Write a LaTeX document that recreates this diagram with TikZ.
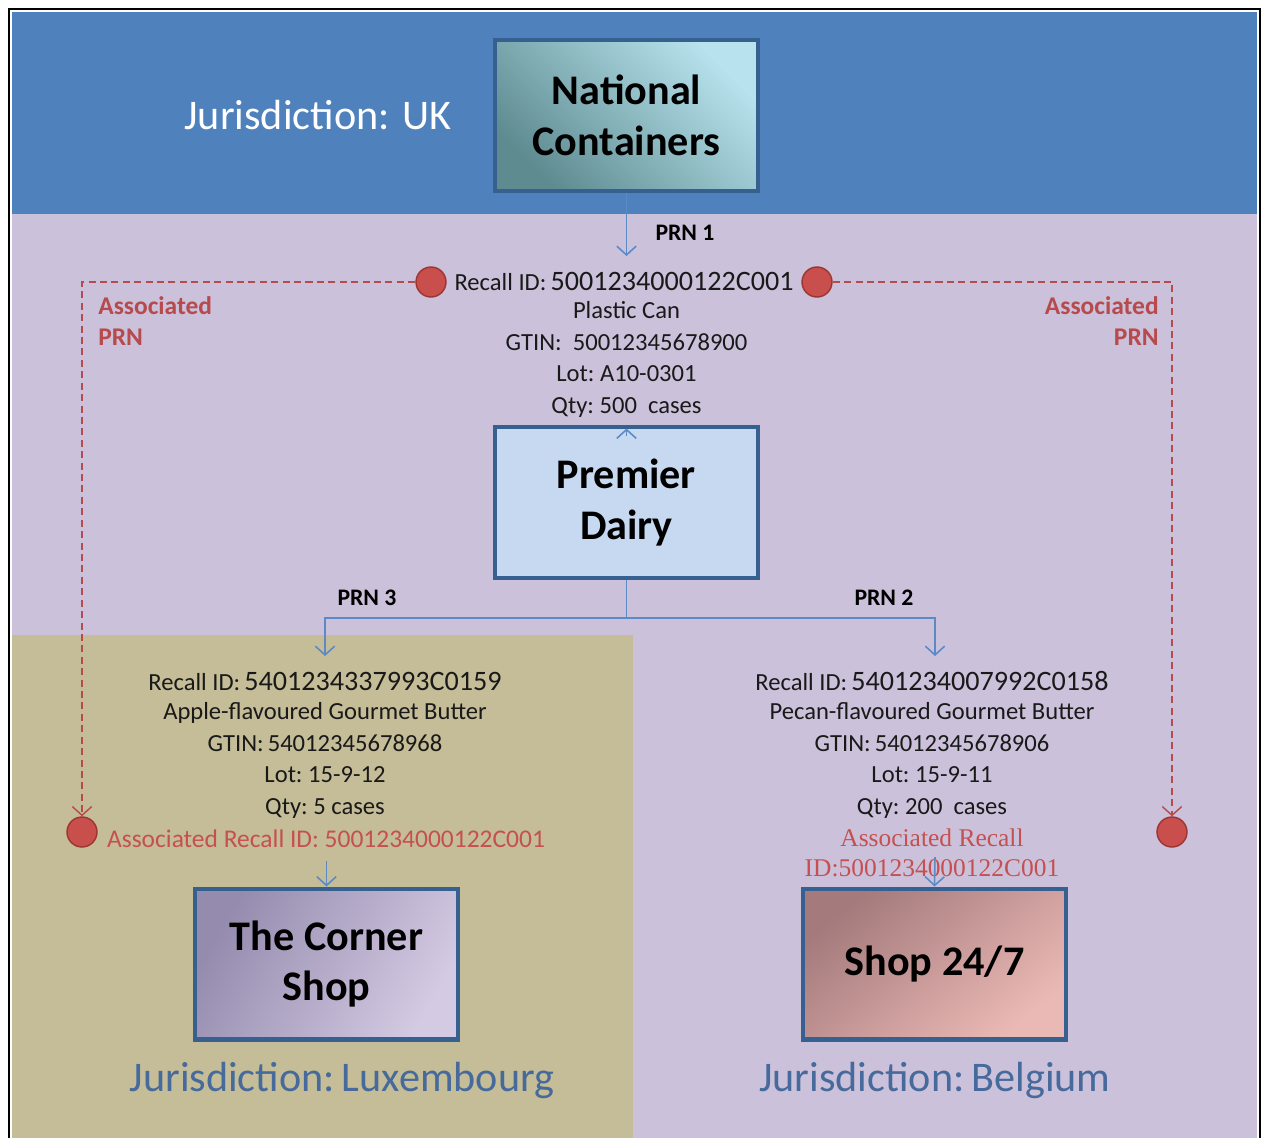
\documentclass[tikz,border=0pt]{standalone}
\usepackage{fontspec}
\setmainfont{Carlito}
\newfontfamily\serifred{Liberation Serif}
\usetikzlibrary{arrows.meta,calc}

\definecolor{band}{HTML}{4F81BD}
\definecolor{lav}{HTML}{CCC1DA}
\definecolor{olivebg}{HTML}{C4BD97}
\definecolor{boxline}{HTML}{35608F}
\definecolor{pdblue}{HTML}{C6D9F1}
\definecolor{connblue}{HTML}{5B8AC6}
\definecolor{dotred}{HTML}{C94F4C}
\definecolor{dotdark}{HTML}{9C3532}
\definecolor{assocred}{HTML}{B64A4C}
\definecolor{redtext}{HTML}{C45050}
\definecolor{jurblue}{HTML}{466A9C}
\definecolor{ncdark}{HTML}{5E8B90}
\definecolor{nclight}{HTML}{B8E3EE}
\definecolor{csdark}{HTML}{958BAE}
\definecolor{cslight}{HTML}{D4CAE3}
\definecolor{shdark}{HTML}{A47A7C}
\definecolor{shlight}{HTML}{EBB9B5}

\newcommand\fsz[2]{\fontsize{#1}{#2}\selectfont}

\begin{document}
\begin{tikzpicture}[x=0.02cm,y=0.02cm,
  entity/.style={draw=boxline, line width=2.3pt, minimum width=5.26cm,
    minimum height=3.02cm, align=center, inner sep=0pt,
    font=\fsz{24}{29}\bfseries},
  conn/.style={draw=connblue, line width=0.9pt,
    -{Straight Barb[length=5pt,width=11pt]}},
  connline/.style={draw=connblue, line width=0.9pt},
  assoc/.style={draw=assocred, line width=0.8pt, dash pattern=on 4pt off 2.5pt,
    -{Straight Barb[length=5pt,width=11pt]}},
  dotnode/.style={circle, fill=dotred, draw=dotdark, line width=0.8pt,
    minimum size=0.6cm, inner sep=0pt},
  prn/.style={font=\fsz{13.5}{16}\bfseries, inner sep=0pt},
  info/.style={align=center, inner sep=0pt, font=\fsz{14}{17.9}, text=black!90},
  recall/.style={inner sep=0pt, font=\fsz{14}{17}, text=black!90},
  jur/.style={inner sep=0pt, font=\fsz{24}{29}, text=jurblue}]

\useasboundingbox (0,0) rectangle (1265,-1137);

% background regions
\fill[white] (0,0) rectangle (1265,-1137);
\fill[lav] (12,-214) rectangle (1257,-1140);
\fill[olivebg] (12,-635) rectangle (633,-1140);
\fill[band] (12,-12) rectangle (1257,-214);
\draw[black, line width=1.4pt] (9,-1145) -- (9,-9) -- (1260,-9) -- (1260,-1145);

% UK jurisdiction
\node[inner sep=0pt, font=\fsz{24}{29}, text=white] (jUK) at (318,-115) {Jurisdiction: UK};
\node[entity, top color=nclight, bottom color=ncdark, shading angle=-45]
  (NC) at (626.5,-115.5) {National\\Containers};

% recall issued by National Containers
\coordinate (p1) at (626.5,-256);
\draw[conn] (NC.south) -- (p1);
\node[prn] (l1) at (685,-233) {PRN 1};

\node[recall] (r1) at (624,-281) {Recall ID:\,{\fsz{16}{18}5001234000122C001}};
\node[info] (i1) at (626.5,-359.5) {Plastic Can\\GTIN:\ \ 50012345678900\\Lot:\ A10-0301\\Qty:\ 500\ \ cases};

\node[dotnode] (dL1) at (431,-282) {};
\node[dotnode] (dR1) at (817,-282) {};
\node[dotnode] (dL2) at (82,-832) {};
\node[dotnode] (dR2) at (1172,-832) {};

\draw[assoc] (dL1.west) -| (dL2.north);
\draw[assoc] (dR1.east) -| (dR2.north);

\node[anchor=north west, align=left, inner sep=0pt, font=\fsz{14.5}{17.6}\bfseries,
  text=assocred] (aL) at (98,-296) {Associated\\PRN};
\node[anchor=north east, align=right, inner sep=0pt, font=\fsz{14.5}{17.6}\bfseries,
  text=assocred] (aR) at (1159,-296) {Associated\\PRN};

% Premier Dairy
\node[entity, fill=pdblue] (PD) at (626.5,-502.5) {Premier\\Dairy};
\draw[conn] ([yshift=-6pt]PD.north) -- ([yshift=-2pt]PD.north);

\coordinate (fork) at (626.5,-618);
\coordinate (a3) at (325,-656);
\coordinate (a2) at (935,-656);
\draw[connline] (PD.south) -- (fork);
\draw[conn] (fork) -| (a3);
\draw[conn] (fork) -| (a2);
\node[prn] (l3) at (367,-598) {PRN 3};
\node[prn] (l2) at (884,-598) {PRN 2};

% branch to Luxembourg
\node[recall] (r3) at (325,-681) {Recall ID:\,{\fsz{16}{18}5401234337993C0159}};
\node[info] (i3) at (325,-760.5) {Apple-flavoured Gourmet Butter\\GTIN:\,54012345678968\\Lot:\ 15-9-12\\Qty:\ 5 cases};
\node[inner sep=0pt, font=\fsz{14.5}{17}, text=redtext] (x3) at (326,-839)
  {Associated Recall ID:\ 5001234000122C001};
\node[entity, top color=csdark, bottom color=cslight, shading angle=60]
  (CS) at (326.5,-964) {The Corner\\Shop};
\coordinate (a3in) at (326.5,-861);
\draw[conn] (a3in) -- (CS.north);
\node[jur] (jLU) at (342,-1080) {Jurisdiction:\,Luxembourg};

% branch to Belgium
\node[recall] (r2) at (932,-681) {Recall ID:\,{\fsz{16}{18}5401234007992C0158}};
\node[info] (i2) at (932,-760.5) {Pecan-flavoured Gourmet Butter\\GTIN:\,54012345678906\\Lot:\ 15-9-11\\Qty:\ 200\ \ cases};
\node[align=center, inner sep=0pt, font=\serifred\fsz{14.5}{17}, text=redtext]
  (x2) at (932,-853) {Associated Recall\\ID:5001234000122C001};
\coordinate (a2in) at (935,-857);
\node[entity, top color=shdark, bottom color=shlight, shading angle=40]
  (S247) at (934.5,-964) {Shop 24/7};
\draw[conn] (a2in) -- (S247.north);
\node[jur] (jBE) at (935,-1080) {Jurisdiction:\,Belgium};

\end{tikzpicture}
\end{document}
